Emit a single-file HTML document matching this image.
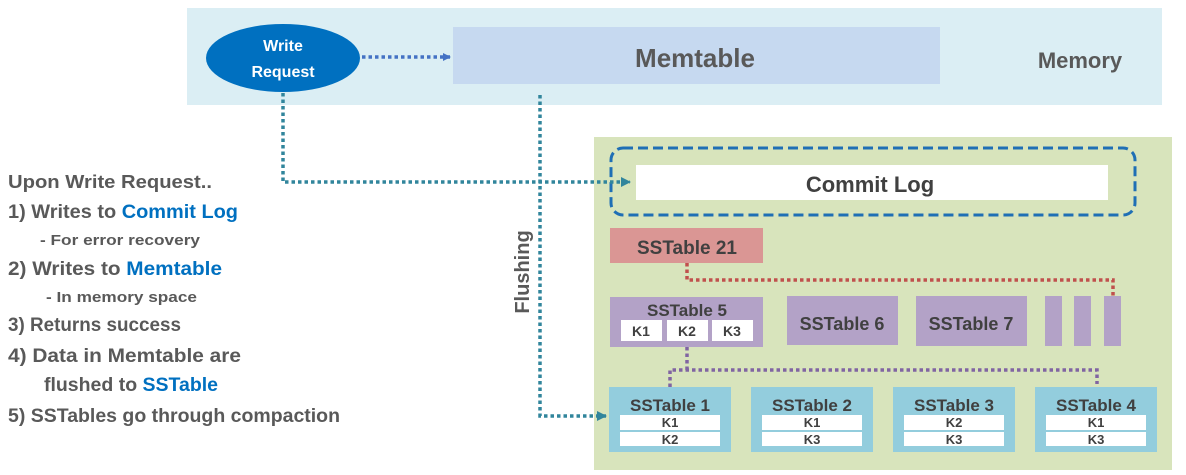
<!DOCTYPE html>
<html><head><meta charset="utf-8"><style>
html,body{margin:0;padding:0;background:#fff;}
svg{display:block;}
text{font-family:"Liberation Sans Narrow","Liberation Sans",sans-serif;font-weight:bold;}
</style></head><body>
<svg width="1186" height="475" viewBox="0 0 1186 475" xmlns="http://www.w3.org/2000/svg">
<defs>
<marker id="ab" markerWidth="8" markerHeight="8" refX="7" refY="4" orient="auto" markerUnits="userSpaceOnUse"><path d="M0,0 L8,4 L0,8z" fill="#4472c4"/></marker>
<marker id="at" markerWidth="10" markerHeight="10" refX="9" refY="5" orient="auto" markerUnits="userSpaceOnUse"><path d="M0,0 L10,5 L0,10z" fill="#31859c"/></marker>
</defs>
<rect x="187" y="8" width="975" height="97" fill="#dbeef4"/>
<rect x="453" y="27" width="487" height="57" fill="#c6d9f0"/>
<text x="695" y="67" font-size="26" fill="#595959" text-anchor="middle">Memtable</text>
<text x="1080" y="68" font-size="22" fill="#595959" text-anchor="middle">Memory</text>
<ellipse cx="283" cy="58" rx="77" ry="34" fill="#0070c0"/>
<text x="283" y="51" font-size="16" fill="#fff" text-anchor="middle">Write</text>
<text x="283" y="77" font-size="16" fill="#fff" text-anchor="middle">Request</text>
<line x1="362" y1="57" x2="450" y2="57" stroke="#4472c4" stroke-width="3.5" stroke-dasharray="3.5 3" marker-end="url(#ab)"/>

<rect x="594" y="137" width="578" height="333" fill="#d8e4bc"/>
<rect x="611" y="148" width="524" height="67" rx="12" fill="none" stroke="#1f6fb5" stroke-width="3" stroke-dasharray="10 5"/>
<rect x="636" y="165" width="472" height="35" fill="#fff"/>
<text x="870" y="192" font-size="22" fill="#404040" text-anchor="middle">Commit Log</text>

<polyline points="283,93 283,182 630,182" fill="none" stroke="#31859c" stroke-width="3.5" stroke-dasharray="3.5 3" marker-end="url(#at)"/>
<polyline points="540,95 540,416 606,416" fill="none" stroke="#31859c" stroke-width="3.5" stroke-dasharray="3.5 3" marker-end="url(#at)"/>
<text transform="translate(529,272) rotate(-90)" font-size="20" fill="#595959" text-anchor="middle">Flushing</text>

<rect x="610" y="228" width="153" height="35" fill="#da9694"/>
<text x="687" y="254" font-size="19" fill="#404040" text-anchor="middle">SSTable 21</text>
<polyline points="687,263 687,280 1113,280 1113,297" fill="none" stroke="#c0504d" stroke-width="3.5" stroke-dasharray="3.5 3"/>

<rect x="610" y="297" width="153" height="50" fill="#b3a2c7"/>
<text x="687" y="316" font-size="17" fill="#404040" text-anchor="middle">SSTable 5</text>
<rect x="621" y="320" width="41" height="21" fill="#fff"/>
<rect x="667" y="320" width="41" height="21" fill="#fff"/>
<rect x="712" y="320" width="41" height="21" fill="#fff"/>
<text x="641" y="336" font-size="14" fill="#404040" text-anchor="middle">K1</text>
<text x="687" y="336" font-size="14" fill="#404040" text-anchor="middle">K2</text>
<text x="732" y="336" font-size="14" fill="#404040" text-anchor="middle">K3</text>
<rect x="787" y="296" width="111" height="49" fill="#b3a2c7"/>
<text x="842" y="330" font-size="18" fill="#404040" text-anchor="middle">SSTable 6</text>
<rect x="916" y="296" width="111" height="50" fill="#b3a2c7"/>
<text x="971" y="330" font-size="18" fill="#404040" text-anchor="middle">SSTable 7</text>
<rect x="1045" y="296" width="17" height="50" fill="#b3a2c7"/>
<rect x="1074" y="296" width="17" height="50" fill="#b3a2c7"/>
<rect x="1104" y="296" width="17" height="50" fill="#b3a2c7"/>

<polyline points="687,347 687,370" fill="none" stroke="#8064a2" stroke-width="3.5" stroke-dasharray="3.5 3"/>
<polyline points="670,387 670,370 1097,370 1097,384" fill="none" stroke="#8064a2" stroke-width="3.5" stroke-dasharray="3.5 3"/>

<g font-size="17" fill="#404040" text-anchor="middle">
<rect x="609" y="387" width="122" height="65" fill="#93cddd"/>
<text x="670" y="411">SSTable 1</text>
<rect x="751" y="387" width="122" height="65" fill="#93cddd"/>
<text x="812" y="411">SSTable 2</text>
<rect x="893" y="387" width="122" height="65" fill="#93cddd"/>
<text x="954" y="411">SSTable 3</text>
<rect x="1035" y="387" width="122" height="65" fill="#93cddd"/>
<text x="1096" y="411">SSTable 4</text>
</g>
<g fill="#fff">
<rect x="620" y="415" width="100" height="15"/><rect x="620" y="432" width="100" height="14"/>
<rect x="762" y="415" width="100" height="15"/><rect x="762" y="432" width="100" height="14"/>
<rect x="904" y="415" width="100" height="15"/><rect x="904" y="432" width="100" height="14"/>
<rect x="1046" y="415" width="100" height="15"/><rect x="1046" y="432" width="100" height="14"/>
</g>
<g font-size="13" fill="#404040" text-anchor="middle">
<text x="670" y="427">K1</text><text x="670" y="444">K2</text>
<text x="812" y="427">K1</text><text x="812" y="444">K3</text>
<text x="954" y="427">K2</text><text x="954" y="444">K3</text>
<text x="1096" y="427">K1</text><text x="1096" y="444">K3</text>
</g>

<g fill="#595959">
<text x="8" y="188" font-size="18" textLength="204" lengthAdjust="spacingAndGlyphs">Upon Write Request..</text>
<text x="8" y="218" font-size="19" textLength="230" lengthAdjust="spacingAndGlyphs">1) Writes to <tspan fill="#0070c0">Commit Log</tspan></text>
<text x="40" y="245" font-size="15" textLength="160" lengthAdjust="spacingAndGlyphs">- For error recovery</text>
<text x="8" y="275" font-size="19" textLength="214" lengthAdjust="spacingAndGlyphs">2) Writes to <tspan fill="#0070c0">Memtable</tspan></text>
<text x="46" y="302" font-size="15" textLength="151" lengthAdjust="spacingAndGlyphs">- In memory space</text>
<text x="8" y="331" font-size="19" textLength="173" lengthAdjust="spacingAndGlyphs">3) Returns success</text>
<text x="8" y="362" font-size="19" textLength="233" lengthAdjust="spacingAndGlyphs">4) Data in Memtable are</text>
<text x="44" y="391" font-size="19" textLength="174" lengthAdjust="spacingAndGlyphs">flushed to <tspan fill="#0070c0">SSTable</tspan></text>
<text x="8" y="422" font-size="19" textLength="332" lengthAdjust="spacingAndGlyphs">5) SSTables go through compaction</text>
</g>
</svg>
</body></html>
